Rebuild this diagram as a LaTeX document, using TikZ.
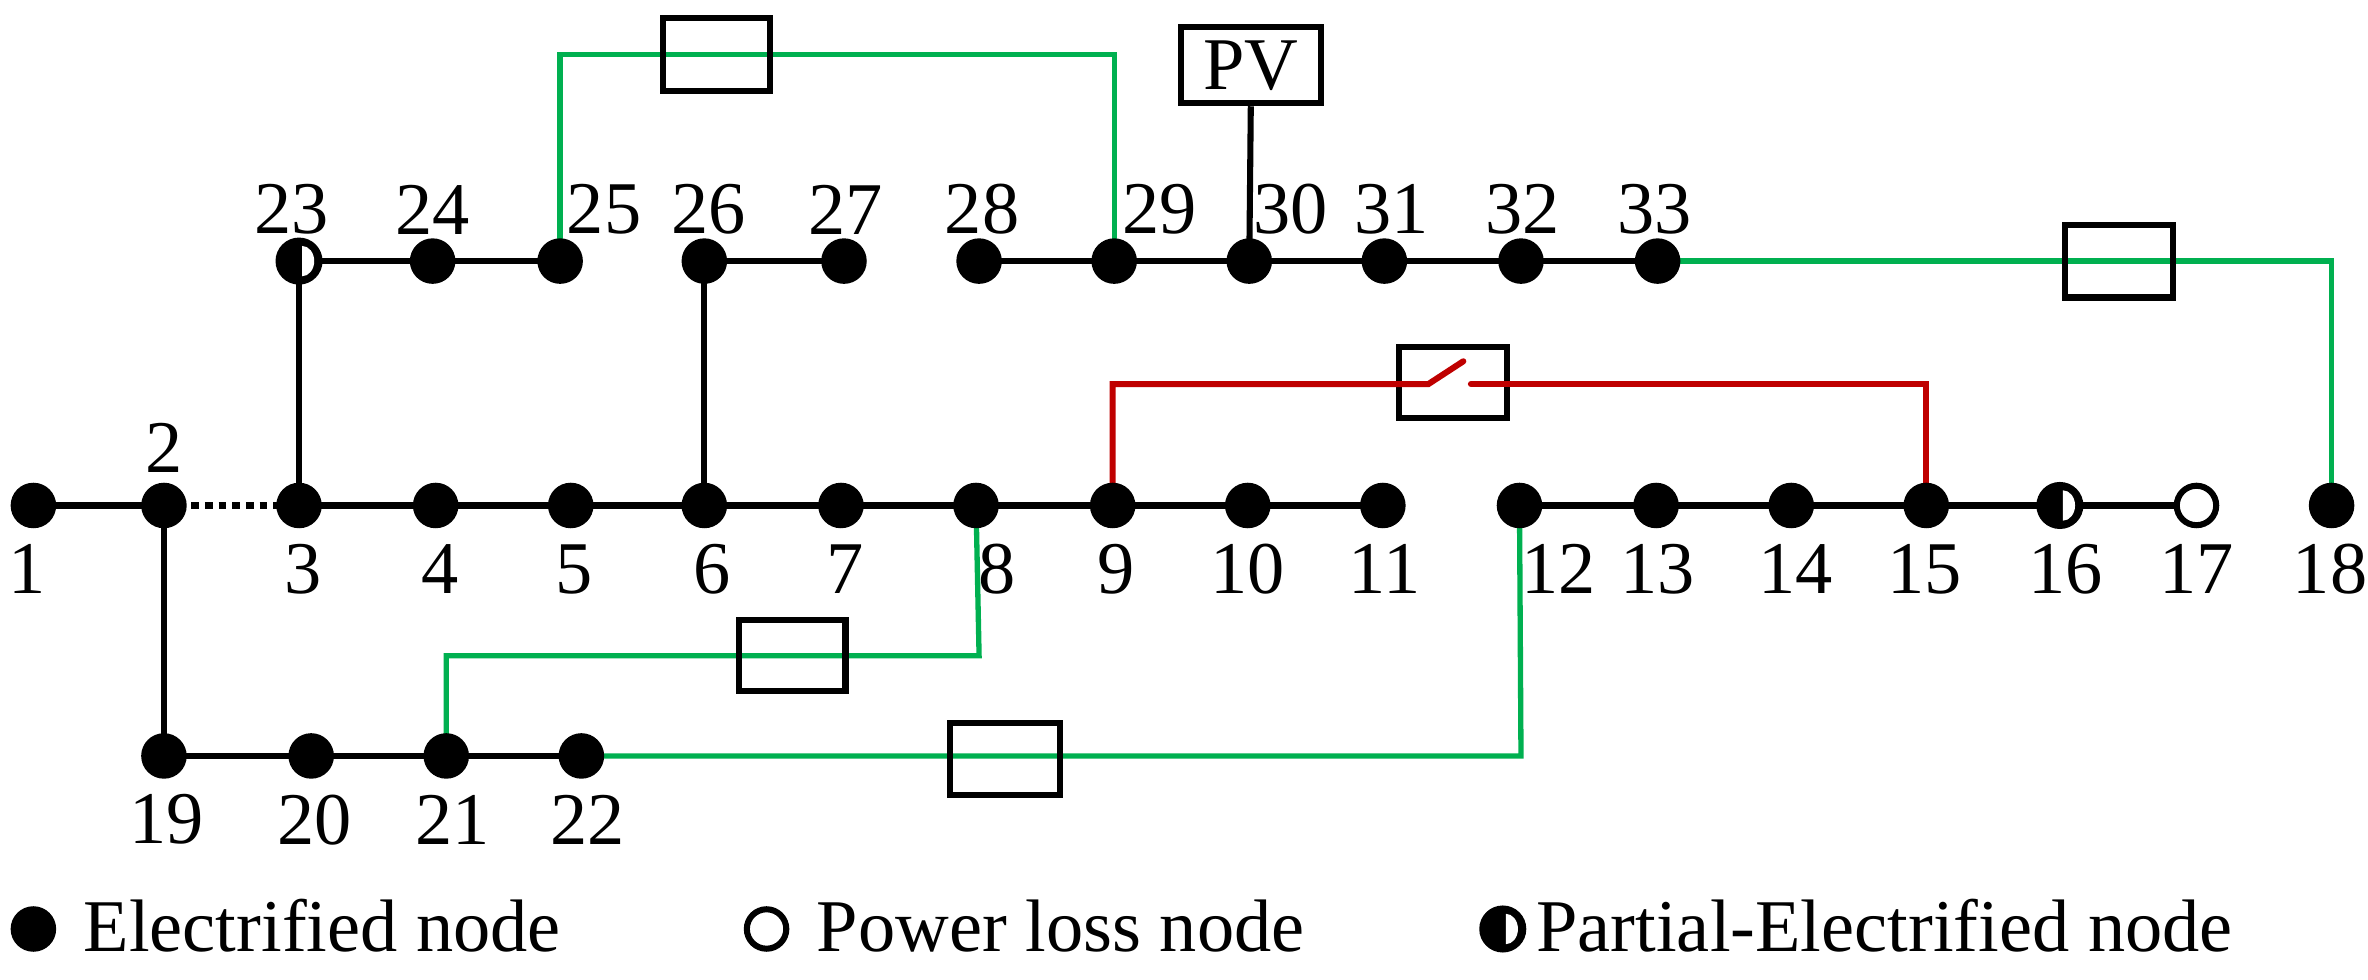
\documentclass[tikz,border=0pt]{standalone}
\usepackage{fontspec}
\setmainfont{Liberation Serif}
\begin{document}
\begin{tikzpicture}[x=1pt,y=-1pt,
  dot/.style={circle,fill=black,minimum size=30pt,inner sep=0pt},
  loss/.style={circle,draw=black,line width=4pt,fill=white,minimum size=26pt,inner sep=0pt},
  lbl/.style={font=\fontsize{49}{49}\selectfont,inner sep=0pt},
  line/.style={line width=4pt,black},
  red/.style={line width=4pt,red!75!black},
  box/.style={draw=black,line width=4pt,fill=none,inner sep=0pt}]
\useasboundingbox (0,0) rectangle (1560,645);
\definecolor{gr}{RGB}{0,176,80}
\tikzset{grn/.style={line width=3.5pt,gr}}
% main row
\foreach \n/\x in {1/22,2/108,3/197,4/287,5/376,6/464,7/554,8/643,9/733,10/822,11/911,12/1001,13/1091,14/1180,15/1269,16/1357,17/1447,18/1536}
  \coordinate (p\n) at (\x,333);
\foreach \n/\x in {23/197,24/285,25/369,26/464,27/556,28/645,29/734,30/823,31/912,32/1002,33/1092}
  \coordinate (p\n) at (\x,172);
\foreach \n/\x in {19/108,20/205,21/294,22/383}
  \coordinate (p\n) at (\x,498);
% lines
\draw[line] (p1)--(p2);
\draw[line,line cap=butt,dash pattern=on 5pt off 4pt] (p2)--(p3);
\draw[line] (p3)--(p11);
\draw[line] (p12)--(p17);
\draw[line] (p2)--(p19);
\draw[line] (p3)--(p23);
\draw[line] (p6)--(p26);
\draw[line] (p23)--(p25);
\draw[line] (p26)--(p27);
\draw[line] (p28)--(p33);
\draw[line] (p19)--(p22);
% PV
\node[box,minimum width=92pt,minimum height=50pt,font=\fontsize{49}{49}\selectfont] (pv) at (824,43) {PV};
\draw[line] (pv.south)--(p30);
% green ties
\draw[grn] (p25) -- (369,36) -- (734,36) -- (p29);
\node[box,minimum width=71pt,minimum height=48pt] (b1) at (472,36) {};
\draw[grn] (p33) -- (1536,172) -- (p18);
\node[box,minimum width=71pt,minimum height=48pt] (b2) at (1396,172) {};
\draw[grn] (p8) -- (645,432) -- (294,432) -- (p21);
\node[box,minimum width=70pt,minimum height=47pt] (b3) at (522,432) {};
\draw[grn] (p22) -- (1002,498) -- (p12);
\node[box,minimum width=72pt,minimum height=48pt] (b4) at (662,500) {};
% red switch
\node[box,minimum width=71pt,minimum height=47pt] (sw) at (957,252) {};
\coordinate (s1) at (941,253); \coordinate (s2) at (964,238); \coordinate (s3) at (969,253);
\draw[red,line cap=round] (p9) -- (733,253) -- (s1) -- (s2);
\draw[red,line cap=round] (s3) -- (1269,253) -- (p15);
% nodes
\foreach \n in {1,2,3,4,5,6,7,8,9,10,11,12,13,14,15,18,19,20,21,22,24,25,26,27,28,29,30,31,32,33}
  \node[dot] at (p\n) {};
\coordinate (l3) at (990,612);
\foreach \c in {p16,p23,l3}{\fill[black] (\c) circle (15.5pt); \fill[white] ([xshift=2pt,yshift=-10pt]\c) arc (-90:90:8pt and 10pt) -- cycle;}
\node[loss] at (p17) {};
% labels
\node[lbl] at (108,295) {2};
\foreach \n/\x in {1/18,3/200,4/290,5/378,6/469,7/557,8/657,9/735,10/822,11/912,12/1027,13/1092,14/1183,15/1268,16/1361,17/1447,18/1535}
  \node[lbl] at (\x,375) {\n};
\foreach \n/\x in {23/192,24/285,25/398,26/467,27/557,28/647,29/764,30/850,31/917,32/1003,33/1090}
  \node[lbl] at (\x,138) {\n};
\foreach \n/\x in {19/110,20/207,21/298,22/387}
  \node[lbl] at (\x,540) {\n};
% legend
\node[dot] (l1) at (22,612) {};
\node[lbl,anchor=west] at (55,610) {Electrified node};
\node[loss] (l2) at (505,612) {};
\node[lbl,anchor=west] at (538,610) {Power loss node};
\node[lbl,anchor=west] at (1012,610) {Partial-Electrified node};
\end{tikzpicture}
\end{document}
